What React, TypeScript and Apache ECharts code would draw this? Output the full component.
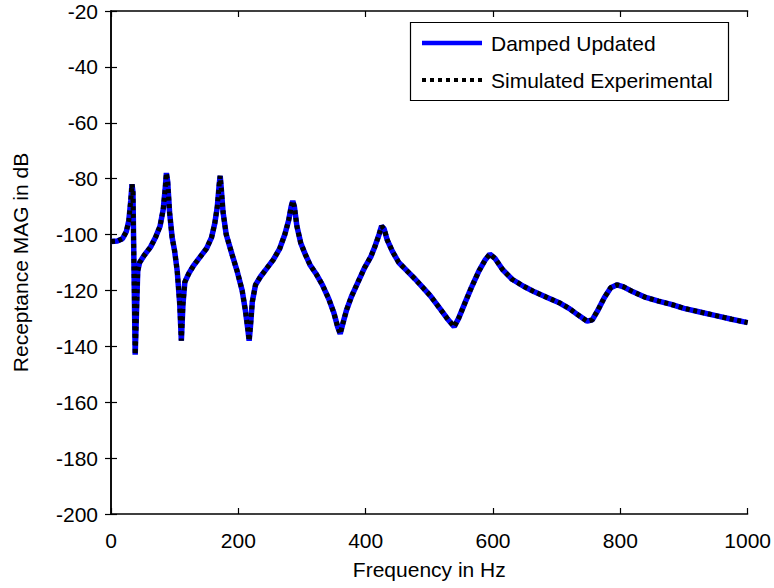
import React, { useEffect, useRef } from "react";
import * as echarts from "echarts";

const xTicks = [0, 200, 400, 600, 800, 1000];
const yTicks = [-200, -180, -160, -140, -120, -100, -80, -60, -40, -20];

const freqHz = [
  0, 10, 18, 24, 28, 31, 33, 34.5, 36, 38, 40, 42, 45, 52, 62, 70, 77, 82, 85, 87, 89, 92, 96, 100, 104, 108, 110.5, 113, 116,
  122, 130, 140, 150, 158, 163, 167, 170, 171.5, 173, 176, 181, 190, 198, 206, 211, 215, 217, 219, 222, 227, 235, 245, 255,
  265, 273, 279, 283, 285.5, 288, 292, 298, 305, 313, 322, 332, 342, 350, 356, 360, 364, 370, 378, 388, 398, 408, 415, 421,
  425, 429, 434, 442, 452, 465, 478, 490, 502, 515, 528, 539, 546, 555, 566, 578, 588, 595, 603, 615, 630, 648, 665, 685,
  705, 720, 735, 748, 756, 765, 775, 785, 795, 805, 820, 840, 860, 880, 900, 925, 950, 975, 1000,
];

const dampedUpdated = [
  -102.5, -102.3, -101.5, -99, -95, -88, -82, -85, -110, -143, -128, -113, -110, -107.5, -104.5, -101, -97, -91, -84, -78,
  -81, -92, -101, -106, -113, -125, -138, -125, -117, -114, -111, -108, -105, -101, -96, -90, -82, -79, -83, -92, -100,
  -107, -113, -120, -127, -134, -138, -133, -124, -118, -115, -112, -109, -105, -100, -95, -90, -88, -90, -97, -103, -107,
  -111, -114, -118, -123, -128, -133, -135.5, -132, -127, -122, -117, -112, -108, -104, -100, -97, -98, -102, -106, -110,
  -113, -116, -119, -122, -126, -130, -133, -130, -125, -119, -113, -109, -107, -108.5, -112.5, -116, -118.5, -120.5,
  -122.5, -124.5, -126.5, -129, -131, -130.5, -127, -122.5, -119, -118, -118.7, -120.5, -122.5, -123.8, -125, -126.4,
  -127.7, -129, -130.3, -131.5,
];

const simulatedExperimental = [
  -102.5, -102.3, -101.5, -99, -95, -88, -82, -85, -110, -143, -128, -113, -110, -107.5, -104.5, -101, -97, -91, -84, -78,
  -81, -92, -101, -106, -113, -125, -138, -125, -117, -114, -111, -108, -105, -101, -96, -90, -82, -79, -83, -92, -100,
  -107, -113, -120, -127, -134, -138, -133, -124, -118, -115, -112, -109, -105, -100, -95, -90, -88, -90, -97, -103, -107,
  -111, -114, -118, -123, -128, -133, -135.5, -132, -127, -122, -117, -112, -108, -104, -100, -97, -98, -102, -106, -110,
  -113, -116, -119, -122, -126, -130, -133, -130, -125, -119, -113, -109, -107, -108.5, -112.5, -116, -118.5, -120.5,
  -122.5, -124.5, -126.5, -129, -131, -130.5, -127, -122.5, -119, -118, -118.7, -120.5, -122.5, -123.8, -125, -126.4,
  -127.7, -129, -130.3, -131.5,
];

const seriesNames = ["Damped Updated", "Simulated Experimental"];
const xTitle = "Frequency in Hz";
const yTitle = "Receptance MAG in dB";

const FONT = "'Liberation Sans', Arial, Helvetica, sans-serif";
const FS = 21;

export default function App() {
  const ref = useRef<HTMLDivElement>(null);

  useEffect(() => {
    if (!ref.current) return;
    const chart = echarts.init(ref.current, undefined, { renderer: "svg" });
    const xMin = xTicks[0];
    const xMax = xTicks[xTicks.length - 1];
    const xInt = xTicks[1] - xTicks[0];
    const yMin = yTicks[0];
    const yMax = yTicks[yTicks.length - 1];
    const yInt = yTicks[1] - yTicks[0];

    const axisLine = { show: true, lineStyle: { color: "#000", width: 1.5 } };
    const tick = { show: true, inside: true, length: 6, lineStyle: { color: "#000", width: 1.2 } };

    chart.setOption({
      animation: false,
      backgroundColor: "#fff",
      textStyle: { fontFamily: FONT },
      grid: { left: 111, right: 23, top: 11, bottom: 74 },
      xAxis: [
        {
          type: "value",
          min: xMin,
          max: xMax,
          interval: xInt,
          position: "bottom",
          axisLine,
          axisTick: tick,
          splitLine: { show: false },
          axisLabel: {
            color: "#000",
            fontSize: FS,
            fontFamily: FONT,
            margin: 16,
            formatter: (v: number) => String(v),
          },
          name: xTitle,
          nameLocation: "middle",
          nameGap: 45,
          nameTextStyle: { color: "#000", fontSize: FS, fontFamily: FONT },
        },
        {
          type: "value",
          min: xMin,
          max: xMax,
          interval: xInt,
          position: "top",
          axisLine,
          axisTick: tick,
          splitLine: { show: false },
          axisLabel: { show: false },
        },
      ],
      yAxis: [
        {
          type: "value",
          min: yMin,
          max: yMax,
          interval: yInt,
          position: "left",
          axisLine,
          axisTick: tick,
          splitLine: { show: false },
          axisLabel: {
            color: "#000",
            fontSize: FS,
            fontFamily: FONT,
            margin: 13,
            formatter: (v: number) => String(v),
          },
          name: yTitle,
          nameLocation: "middle",
          nameGap: 80,
          nameTextStyle: { color: "#000", fontSize: FS, fontFamily: FONT },
        },
        {
          type: "value",
          min: yMin,
          max: yMax,
          interval: yInt,
          position: "right",
          axisLine,
          axisTick: tick,
          splitLine: { show: false },
          axisLabel: { show: false },
        },
      ],
      series: [
        {
          name: seriesNames[0],
          type: "line",
          data: freqHz.map((f, i) => [f, dampedUpdated[i]]),
          showSymbol: false,
          symbol: "none",
          lineStyle: { color: "#0000ff", width: 5.5 },
          z: 2,
        },
        {
          name: seriesNames[1],
          type: "line",
          data: freqHz.map((f, i) => [f, simulatedExperimental[i]]),
          showSymbol: false,
          symbol: "none",
          lineStyle: { color: "#000", width: 5, type: [4, 3.5], cap: "butt" },
          z: 3,
        },
      ],
      graphic: [
        {
          type: "rect",
          shape: { x: 410.5, y: 22.5, width: 318, height: 78 },
          style: { fill: "#fff", stroke: "#000", lineWidth: 1.2 },
          z: 10,
        },
        {
          type: "line",
          shape: { x1: 422, y1: 43, x2: 482, y2: 43 },
          style: { stroke: "#0000ff", lineWidth: 4.5 },
          z: 11,
        },
        {
          type: "text",
          x: 491,
          y: 43,
          style: { text: seriesNames[0], fill: "#000", font: `${FS}px ${FONT}`, verticalAlign: "middle", align: "left" },
          z: 11,
        },
        {
          type: "line",
          shape: { x1: 422, y1: 80, x2: 482, y2: 80 },
          style: { stroke: "#000", lineWidth: 4, lineDash: [4, 4] },
          z: 11,
        },
        {
          type: "text",
          x: 491,
          y: 80,
          style: { text: seriesNames[1], fill: "#000", font: `${FS}px ${FONT}`, verticalAlign: "middle", align: "left" },
          z: 11,
        },
      ],
    });

    return () => chart.dispose();
  }, []);

  return (
    <div
      ref={ref}
      style={{ position: "fixed", left: 0, top: 0, width: 774, height: 588, background: "#fff" }}
    />
  );
}
